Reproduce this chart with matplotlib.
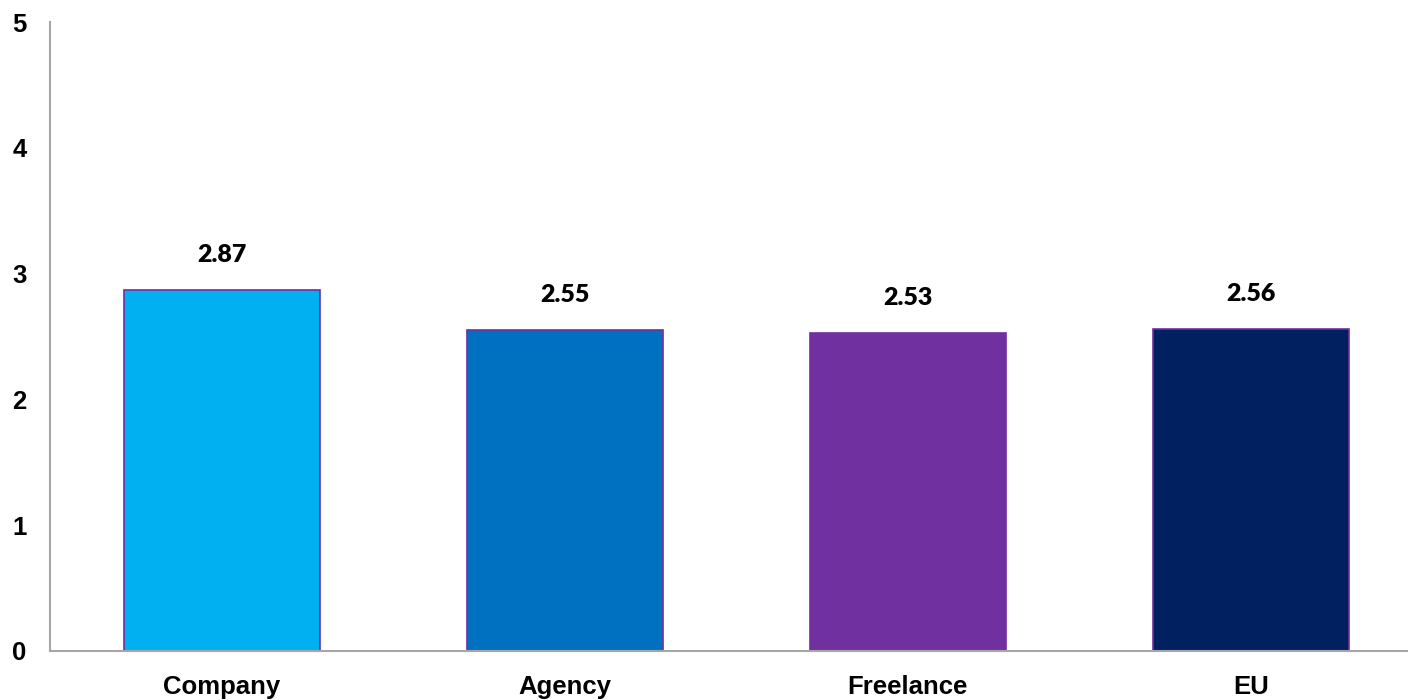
import matplotlib
matplotlib.use("Agg")
import matplotlib.pyplot as plt

categories = ["Company", "Agency", "Freelance", "EU"]
values = [2.87, 2.55, 2.53, 2.56]
colors = ["#00B0F0", "#0070C0", "#7030A0", "#002060"]
yticks = [0, 1, 2, 3, 4, 5]

fig = plt.figure(figsize=(14.08, 7.0), dpi=100)
ax = fig.add_axes([50/1408, 49/700, 1 - 50/1408, (651-22)/700])

x = range(len(categories))
bars = ax.bar(x, values, width=0.571, color=colors, edgecolor="#7030A0", linewidth=1.2)

for xi, v in zip(x, values):
    ax.text(xi, v + 0.19, f"{v:.2f}", ha="center", va="bottom", fontsize=18,
            fontweight="heavy", family="Lato", color="#000000")

ax.set_xlim(-0.5, 3.458)
ax.set_ylim(0, 5)
ax.set_xticks(list(x))
ax.set_xticklabels(categories, fontsize=18.5, fontweight="bold", family="Liberation Sans")
ax.set_yticks(yticks)
ax.set_yticklabels([str(t) for t in yticks], fontsize=18.5, fontweight="bold", family="Liberation Sans")
ax.tick_params(axis="both", length=0)
ax.tick_params(axis="x", pad=17)
ax.tick_params(axis="y", pad=17)
for s in ["top", "right"]:
    ax.spines[s].set_visible(False)
for s in ["left", "bottom"]:
    ax.spines[s].set_color("#A6A6A6")
    ax.spines[s].set_linewidth(1.5)

fig.savefig("out.png", dpi=100)
